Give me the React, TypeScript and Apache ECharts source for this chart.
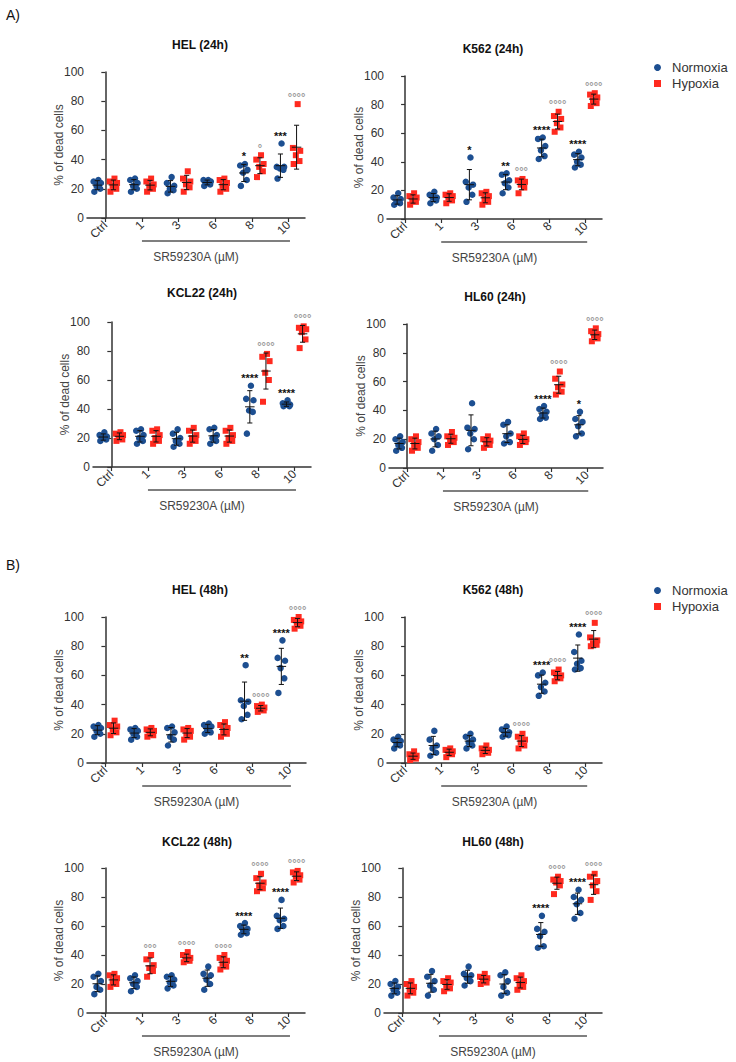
import { useEffect, useRef } from 'react';
import * as echarts from 'echarts';

const FONT = '"Liberation Sans", Arial, sans-serif';

const CONCENTRATIONS = ['Ctrl', '1', '3', '6', '8', '10'];
const X_AXIS_NAME = 'SR59230A (µM)';
const Y_AXIS_NAME = '% of dead cells';
const SECTION_LABELS = ['A)', 'B)'];
const SERIES_NAMES = ['Normoxia', 'Hypoxia'];

// ---- 24 h ----
const HEL_24_TITLE = 'HEL (24h)';
const HEL_24_N = [
  [18, 20, 22, 24, 25, 26],
  [18, 20, 22, 24, 26, 27],
  [17, 19, 20, 22, 24, 28],
  [22, 23, 24, 25, 26, 26],
  [22, 26, 31, 33, 36, 37],
  [27, 33, 34, 35, 35, 51],
];
const HEL_24_H = [
  [18, 20, 22, 24, 25, 27],
  [18, 20, 22, 23, 25, 27],
  [18, 21, 23, 25, 27, 32],
  [18, 20, 22, 24, 26, 27],
  [28, 32, 35, 37, 40, 43],
  [37, 39, 43, 46, 48, 78],
];
const HEL_24_SIG_N = ['', '', '', '', '*', '***'];
const HEL_24_SIG_H = ['', '', '', '', '°', '°°°°'];

const K562_24_TITLE = 'K562 (24h)';
const K562_24_N = [
  [10, 11, 12, 14, 15, 18],
  [11, 13, 15, 15, 17, 19],
  [12, 17, 22, 24, 26, 43],
  [18, 22, 25, 27, 31, 32],
  [42, 44, 48, 51, 56, 57],
  [36, 38, 40, 43, 45, 47],
];
const K562_24_H = [
  [10, 12, 13, 15, 16, 18],
  [11, 13, 15, 16, 17, 18],
  [10, 12, 14, 16, 18, 19],
  [18, 22, 24, 26, 27, 28],
  [61, 64, 67, 70, 72, 75],
  [79, 81, 83, 85, 87, 88],
];
const K562_24_SIG_N = ['', '', '*', '**', '****', '****'];
const K562_24_SIG_H = ['', '', '', '°°°', '°°°°', '°°°°'];

const KCL22_24_TITLE = 'KCL22 (24h)';
const KCL22_24_N = [
  [18, 19, 20, 21, 22, 24],
  [16, 18, 20, 22, 25, 26],
  [14, 16, 18, 20, 23, 26],
  [16, 18, 20, 22, 26, 27],
  [23, 38, 39, 46, 47, 56],
  [42, 42, 43, 43, 44, 46],
];
const KCL22_24_H = [
  [18, 19, 21, 22, 23, 24],
  [16, 18, 20, 22, 25, 26],
  [16, 18, 20, 22, 25, 27],
  [16, 18, 20, 22, 25, 27],
  [45, 60, 65, 73, 76, 78],
  [82, 88, 93, 95, 96, 97],
];
const KCL22_24_SIG_N = ['', '', '', '', '****', '****'];
const KCL22_24_SIG_H = ['', '', '', '', '°°°°', '°°°°'];

const HL60_24_TITLE = 'HL60 (24h)';
const HL60_24_N = [
  [12, 14, 16, 18, 20, 22],
  [12, 16, 20, 22, 24, 27],
  [13, 20, 24, 27, 28, 45],
  [17, 18, 22, 24, 30, 32],
  [34, 35, 37, 39, 41, 43],
  [22, 24, 29, 32, 34, 39],
];
const HL60_24_H = [
  [12, 14, 16, 18, 20, 22],
  [16, 18, 20, 21, 22, 25],
  [14, 16, 18, 19, 20, 22],
  [16, 18, 19, 20, 22, 24],
  [51, 53, 56, 58, 62, 67],
  [88, 90, 92, 93, 95, 97],
];
const HL60_24_SIG_N = ['', '', '', '', '****', '*'];
const HL60_24_SIG_H = ['', '', '', '', '°°°°', '°°°°'];

// ---- 48 h ----
const HEL_48_TITLE = 'HEL (48h)';
const HEL_48_N = [
  [18, 20, 22, 24, 25, 26],
  [16, 18, 20, 22, 23, 24],
  [12, 16, 18, 21, 24, 25],
  [20, 21, 23, 25, 26, 27],
  [30, 33, 39, 42, 43, 67],
  [48, 58, 65, 70, 72, 84],
];
const HEL_48_H = [
  [19, 21, 23, 25, 26, 29],
  [18, 19, 20, 22, 23, 24],
  [16, 18, 20, 22, 23, 24],
  [18, 20, 22, 24, 26, 28],
  [35, 36, 37, 38, 39, 40],
  [92, 94, 96, 97, 98, 100],
];
const HEL_48_SIG_N = ['', '', '', '', '**', '****'];
const HEL_48_SIG_H = ['', '', '', '', '°°°°', '°°°°'];

const K562_48_TITLE = 'K562 (48h)';
const K562_48_N = [
  [10, 12, 13, 15, 16, 18],
  [5, 7, 10, 12, 16, 22],
  [10, 12, 14, 16, 18, 20],
  [18, 19, 20, 21, 23, 25],
  [46, 49, 52, 55, 60, 62],
  [64, 65, 68, 70, 76, 88],
];
const K562_48_H = [
  [2, 3, 4, 5, 6, 8],
  [4, 6, 7, 8, 9, 10],
  [6, 7, 8, 9, 10, 12],
  [10, 12, 14, 16, 18, 20],
  [56, 58, 59, 60, 62, 64],
  [80, 81, 82, 84, 86, 96],
];
const K562_48_SIG_N = ['', '', '', '', '****', '****'];
const K562_48_SIG_H = ['', '', '', '°°°°', '°°°°', '°°°°'];

const KCL22_48_TITLE = 'KCL22 (48h)';
const KCL22_48_N = [
  [13, 16, 18, 22, 25, 27],
  [15, 18, 20, 22, 24, 26],
  [17, 19, 21, 23, 25, 26],
  [16, 20, 23, 26, 27, 32],
  [54, 55, 57, 58, 60, 62],
  [58, 60, 64, 65, 67, 78],
];
const KCL22_48_H = [
  [18, 20, 22, 24, 26, 27],
  [25, 29, 31, 33, 37, 40],
  [35, 36, 37, 38, 40, 42],
  [30, 32, 34, 36, 38, 40],
  [84, 86, 88, 90, 93, 96],
  [90, 92, 94, 95, 97, 98],
];
const KCL22_48_SIG_N = ['', '', '', '', '****', '****'];
const KCL22_48_SIG_H = ['', '°°°', '°°°°', '°°°°', '°°°°', '°°°°'];

const HL60_48_TITLE = 'HL60 (48h)';
const HL60_48_N = [
  [12, 14, 16, 18, 20, 22],
  [12, 16, 19, 22, 25, 29],
  [19, 22, 24, 26, 27, 32],
  [12, 14, 18, 22, 26, 28],
  [45, 46, 53, 56, 58, 67],
  [65, 69, 75, 78, 80, 85],
];
const HL60_48_H = [
  [12, 14, 16, 18, 20, 22],
  [15, 17, 19, 21, 22, 24],
  [20, 21, 23, 24, 25, 27],
  [16, 18, 20, 22, 24, 26],
  [82, 88, 90, 91, 92, 94],
  [78, 84, 88, 91, 94, 96],
];
const HL60_48_SIG_N = ['', '', '', '', '****', '****'];
const HL60_48_SIG_H = ['', '', '', '', '°°°°', '°°°°'];

const PANELS = [
  { title: HEL_24_TITLE, n: HEL_24_N, h: HEL_24_H, sigN: HEL_24_SIG_N, sigH: HEL_24_SIG_H },
  { title: K562_24_TITLE, n: K562_24_N, h: K562_24_H, sigN: K562_24_SIG_N, sigH: K562_24_SIG_H },
  { title: KCL22_24_TITLE, n: KCL22_24_N, h: KCL22_24_H, sigN: KCL22_24_SIG_N, sigH: KCL22_24_SIG_H },
  { title: HL60_24_TITLE, n: HL60_24_N, h: HL60_24_H, sigN: HL60_24_SIG_N, sigH: HL60_24_SIG_H },
  { title: HEL_48_TITLE, n: HEL_48_N, h: HEL_48_H, sigN: HEL_48_SIG_N, sigH: HEL_48_SIG_H },
  { title: K562_48_TITLE, n: K562_48_N, h: K562_48_H, sigN: K562_48_SIG_N, sigH: K562_48_SIG_H },
  { title: KCL22_48_TITLE, n: KCL22_48_N, h: KCL22_48_H, sigN: KCL22_48_SIG_N, sigH: KCL22_48_SIG_H },
  { title: HL60_48_TITLE, n: HL60_48_N, h: HL60_48_H, sigN: HL60_48_SIG_N, sigH: HL60_48_SIG_H },
];

// ---- layout (pixels) ----
const LAYOUT = [
  { left: 87, top: 72, width: 218, height: 146, tx: 200, ty: 45 },
  { left: 387, top: 76, width: 215, height: 143, tx: 493, ty: 49 },
  { left: 93, top: 322, width: 218, height: 145, tx: 202, ty: 293 },
  { left: 389, top: 324, width: 214, height: 144, tx: 495, ty: 297 },
  { left: 87, top: 617, width: 219, height: 146, tx: 200, ty: 590 },
  { left: 387, top: 617, width: 215, height: 146, tx: 493, ty: 590 },
  { left: 87, top: 868, width: 218, height: 145, tx: 197, ty: 842 },
  { left: 384, top: 868, width: 218, height: 145, tx: 493, ty: 842 },
];
const SECTION_POS = [
  { x: 6, y: 15 },
  { x: 6, y: 565 },
];
const LEGEND_TOPS = [56, 579];
const X_MIN = -0.5;
const X_MAX = 5.45;
const GROUP_OFFSET = 0.22;
const JITTER = [-0.08, 0.08, -0.02, 0.1, -0.1, 0.03];
const BLUE = '#1d4f91';
const RED = '#ff2a1f';

const mean = (v: number[]) => v.reduce((a, b) => a + b, 0) / v.length;
const sd = (v: number[]) => {
  const m = mean(v);
  return Math.sqrt(v.reduce((a, b) => a + (b - m) * (b - m), 0) / (v.length - 1));
};

function scatterData(groups: number[][], offset: number) {
  const out: number[][] = [];
  groups.forEach((vals, i) => {
    [...vals].sort((a, b) => a - b).forEach((v, j) => {
      out.push([i + offset + JITTER[j % JITTER.length], v]);
    });
  });
  return out;
}

function errSeries(gi: number, groups: number[][], offset: number, sigs: string[], sigColor: string) {
  return {
    type: 'custom',
    name: '_err',
    xAxisIndex: gi,
    yAxisIndex: gi,
    z: 5,
    silent: true,
    clip: false,
    data: groups.map((vals, i) => [i + offset, mean(vals), sd(vals), Math.max(...vals)]),
    renderItem: (params: any, api: any) => {
      const x = api.value(0);
      const m = api.value(1);
      const s = api.value(2);
      const top = api.value(3);
      const c = api.coord([x, m]);
      const hi = api.coord([x, m + s]);
      const lo = api.coord([x, m - s]);
      const unit = api.size([1, 0])[0];
      const hm = unit * 0.13;
      const hc = unit * 0.07;
      const st = { stroke: '#111', lineWidth: 1 };
      const children: any[] = [
        { type: 'line', shape: { x1: c[0], y1: lo[1], x2: c[0], y2: hi[1] }, style: st },
        { type: 'line', shape: { x1: c[0] - hm, y1: c[1], x2: c[0] + hm, y2: c[1] }, style: st },
        { type: 'line', shape: { x1: c[0] - hc, y1: hi[1], x2: c[0] + hc, y2: hi[1] }, style: st },
        { type: 'line', shape: { x1: c[0] - hc, y1: lo[1], x2: c[0] + hc, y2: lo[1] }, style: st },
      ];
      const sig = sigs[params.dataIndex];
      if (sig) {
        const tp = api.coord([x, Math.max(top, m + s)]);
        children.push({
          type: 'text',
          x: c[0],
          y: tp[1] - 2,
          style: {
            text: sig,
            fill: sigColor,
            font: `bold 11px ${FONT}`,
            align: 'center',
            verticalAlign: 'bottom',
          },
        });
      }
      return { type: 'group', children };
    },
  };
}

function underlineSeries(gi: number) {
  return {
    type: 'custom',
    name: '_line',
    xAxisIndex: gi,
    yAxisIndex: gi,
    silent: true,
    clip: false,
    data: [[1, 0, 5.04]],
    renderItem: (_p: any, api: any) => {
      const a = api.coord([api.value(0), 0]);
      const b = api.coord([api.value(2), 0]);
      return {
        type: 'line',
        shape: { x1: a[0], y1: a[1] + 23, x2: b[0], y2: a[1] + 23 },
        style: { stroke: '#555', lineWidth: 1.3 },
      };
    },
  };
}

function buildOption() {
  const grid: any[] = [];
  const xAxis: any[] = [];
  const yAxis: any[] = [];
  const series: any[] = [];
  const graphic: any[] = [];

  PANELS.forEach((p, gi) => {
    const L = LAYOUT[gi];
    grid.push({
      left: L.left,
      top: L.top,
      width: L.width,
      height: L.height,
      containLabel: false,
      outerBoundsMode: 'none',
    });
    xAxis.push({
      type: 'value',
      gridIndex: gi,
      min: X_MIN,
      max: X_MAX,
      name: X_AXIS_NAME,
      nameLocation: 'middle',
      nameGap: 33,
      nameMoveOverlap: false,
      nameTextStyle: { fontSize: 12, color: '#444', fontFamily: FONT },
      axisLine: { show: true, onZero: false, lineStyle: { color: '#333', width: 1.5 } },
      axisTick: { show: true, length: 4, customValues: [0, 1, 2, 3, 4, 5], lineStyle: { color: '#333', width: 1.2 } },
      axisLabel: {
        customValues: [0, 1, 2, 3, 4, 5],
        rotate: 45,
        margin: 5,
        fontSize: 12,
        color: '#333',
        fontFamily: FONT,
        formatter: (v: number) => CONCENTRATIONS[Math.round(v)] ?? '',
      },
      splitLine: { show: false },
    });
    yAxis.push({
      type: 'value',
      gridIndex: gi,
      min: 0,
      max: 100,
      interval: 20,
      name: Y_AXIS_NAME,
      nameLocation: 'middle',
      nameRotate: 90,
      nameGap: 22,
      nameMoveOverlap: false,
      nameTextStyle: { fontSize: 12, color: '#444', fontFamily: FONT },
      axisLine: { show: true, lineStyle: { color: '#333', width: 1.5 } },
      axisTick: { show: true, length: 4, lineStyle: { color: '#333', width: 1.2 } },
      axisLabel: { fontSize: 12, color: '#333', margin: 3, fontFamily: FONT },
      splitLine: { show: false },
    });
    series.push({
      type: 'scatter',
      name: SERIES_NAMES[0],
      xAxisIndex: gi,
      yAxisIndex: gi,
      symbol: 'circle',
      symbolSize: 6.5,
      itemStyle: { color: BLUE, opacity: 1 },
      z: 2,
      data: scatterData(p.n, -GROUP_OFFSET),
    });
    series.push({
      type: 'scatter',
      name: SERIES_NAMES[1],
      xAxisIndex: gi,
      yAxisIndex: gi,
      symbol: 'rect',
      symbolSize: 6,
      itemStyle: { color: RED, opacity: 1 },
      z: 2,
      data: scatterData(p.h, GROUP_OFFSET),
    });
    series.push(errSeries(gi, p.n, -GROUP_OFFSET, p.sigN, '#111'));
    series.push(errSeries(gi, p.h, GROUP_OFFSET, p.sigH, '#9a9a9a'));
    series.push(underlineSeries(gi));

    graphic.push({
      type: 'text',
      x: L.tx,
      y: L.ty,
      style: {
        text: p.title,
        font: `bold 12px ${FONT}`,
        fill: '#111',
        align: 'center',
        verticalAlign: 'middle',
      },
    });
  });

  SECTION_LABELS.forEach((s, i) => {
    graphic.push({
      type: 'text',
      x: SECTION_POS[i].x,
      y: SECTION_POS[i].y,
      style: { text: s, font: `14px ${FONT}`, fill: '#111', align: 'left', verticalAlign: 'middle' },
    });
  });

  const legend = LEGEND_TOPS.map((t) => ({
    orient: 'vertical',
    left: 649,
    top: t,
    itemWidth: 7,
    itemHeight: 7,
    itemGap: 3,
    selectedMode: false,
    textStyle: { fontSize: 13, color: '#333', fontFamily: FONT, lineHeight: 13, padding: [0, 0, 0, 6] },
    data: [
      { name: SERIES_NAMES[0], icon: 'circle' },
      { name: SERIES_NAMES[1], icon: 'rect' },
    ],
  }));

  return {
    animation: false,
    backgroundColor: '#ffffff',
    textStyle: { fontFamily: FONT },
    grid,
    xAxis,
    yAxis,
    series,
    legend,
    graphic,
  };
}

export default function App() {
  const ref = useRef<HTMLDivElement>(null);
  useEffect(() => {
    document.body.style.margin = '0';
    if (!ref.current) return;
    const chart = echarts.init(ref.current, undefined, { renderer: 'svg' });
    chart.setOption(buildOption() as any);
    return () => chart.dispose();
  }, []);
  return <div ref={ref} style={{ width: 736, height: 1062 }} />;
}
